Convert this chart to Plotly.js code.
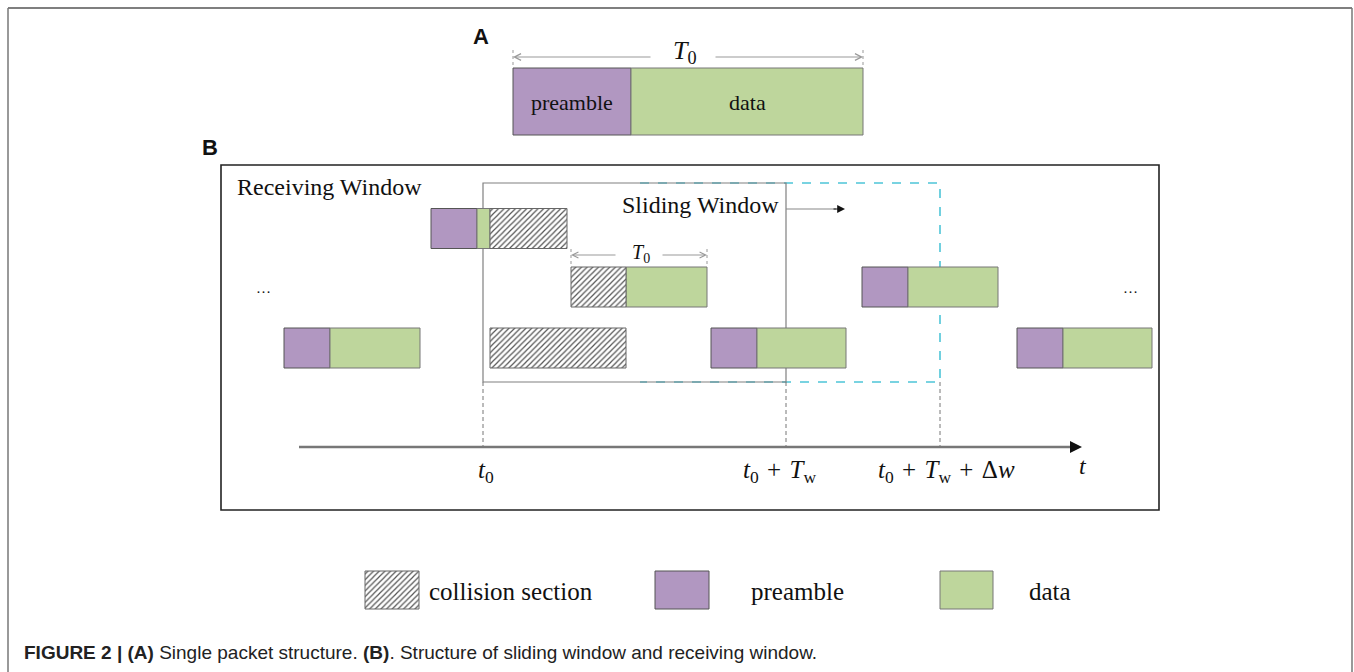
<!DOCTYPE html>
<html>
<head>
<meta charset="utf-8">
<script src="https://cdn.plot.ly/plotly-3.0.1.min.js"></script>
<style>html,body{margin:0;padding:0;background:#fff;}#plot{width:1354px;height:672px;}</style>
</head>
<body>
<div id="plot"></div>
<script>
// ---- diagram data (time positions along the horizontal axis, rows of packets) ----
const rowNames   = ['A', 'r1', 'r2', 'r3', 'legend'];
const rowCenter  = [101.5, 228.5, 287, 348, 590];
const rowHeight  = [67, 40, 40, 40, 38];

const preambleRow   = [0, 1, 2, 3, 3, 3, 4];
const preambleStart = [513, 431, 862, 284, 711, 1017, 655];
const preambleEnd   = [631, 477, 908, 330, 757, 1063, 709];

const dataRow   = [0, 1, 2, 2, 3, 3, 3, 4];
const dataStart = [631, 477, 626, 908, 330, 757, 1063, 940];
const dataEnd   = [863, 490, 707, 998, 420, 846, 1152, 993];

const collisionRow   = [1, 2, 3, 4];
const collisionStart = [490, 571, 490, 365];
const collisionEnd   = [567, 626, 626, 419];

const SP = '\u2004';
const timeMarks  = [483, 786, 940];
const timeLabels = ['<i>t</i><sub>0</sub>',
                    '<i>t</i><sub>0</sub>' + SP + '+' + SP + '<i>T</i><sub>w</sub>',
                    '<i>t</i><sub>0</sub>' + SP + '+' + SP + '<i>T</i><sub>w</sub>' + SP + '+' + SP + 'Δ<i>w</i>'];
const timeLabelX = [486, 779, 946];

const legendLabels = ['collision section', 'preamble', 'data'];

// ---- styles ----
const PURPLE = '#b197c1', GREEN = '#bed69c', EDGE = '#555555';
const SERIF = 'Liberation Serif, Times New Roman, serif';
const SANS = 'Liberation Sans, Arial, sans-serif';

function barTrace(rows, starts, ends, marker) {
  return {
    type: 'bar', orientation: 'h',
    y: rows.map(r => rowCenter[r]),
    width: rows.map(r => rowHeight[r]),
    base: starts,
    x: starts.map((s, i) => ends[i] - s),
    marker: marker,
    hoverinfo: 'skip', showlegend: false
  };
}

const traces = [
  barTrace(preambleRow, preambleStart, preambleEnd,
           {color: PURPLE, line: {color: EDGE, width: 1}}),
  barTrace(dataRow, dataStart, dataEnd,
           {color: GREEN, line: {color: '#777', width: 1}}),
  barTrace(collisionRow, collisionStart, collisionEnd,
           {color: 'white', line: {color: '#666', width: 1},
            pattern: {shape: '/', size: 4, solidity: 0.3, fgcolor: '#555', bgcolor: '#ffffff', fillmode: 'replace'}})
];

const AX_Y = 447, AX_X0 = 299, AX_X1 = 1076;
const shapes = [
  // outer figure frame
  {type: 'line', x0: 8, x1: 1352, y0: 8, y1: 8, line: {color: '#555', width: 1.5}},
  {type: 'line', x0: 8, x1: 8, y0: 8, y1: 672, line: {color: '#777', width: 1.5}},
  {type: 'line', x0: 1352, x1: 1352, y0: 8, y1: 672, line: {color: '#777', width: 1.5}},
  // receiving window
  {type: 'rect', x0: 221, x1: 1159, y0: 165, y1: 510, line: {color: '#222', width: 1.6}, layer: 'below'},
  // shifted window (dashed cyan, open on the left) and sliding window (solid)
  {type: 'path', path: 'M640,183 L940,183 L940,382 L640,382', line: {color: '#4ec5d8', width: 1.6, dash: 'dash'}, layer: 'below'},
  {type: 'rect', x0: 483, x1: 786, y0: 183, y1: 382, line: {color: '#808080', width: 1.2}, layer: 'below'},
  // sliding window direction arrow line
  {type: 'line', x0: 786, x1: 836, y0: 209, y1: 209, line: {color: '#888', width: 1.2}},
  // time axis
  {type: 'line', x0: AX_X0, x1: AX_X1, y0: AX_Y, y1: AX_Y, line: {color: '#777', width: 2.5}},
  // T0 span ticks (panel A)
  {type: 'line', x0: 513, x1: 513, y0: 50, y1: 68, line: {color: '#999', width: 1, dash: 'dot'}},
  {type: 'line', x0: 863, x1: 863, y0: 50, y1: 68, line: {color: '#999', width: 1, dash: 'dot'}},
  // T0 span ticks (row 2)
  {type: 'line', x0: 571, x1: 571, y0: 249, y1: 267, line: {color: '#999', width: 1, dash: 'dot'}},
  {type: 'line', x0: 707, x1: 707, y0: 249, y1: 267, line: {color: '#999', width: 1, dash: 'dot'}}
];
timeMarks.forEach(x => shapes.push({type: 'line', x0: x, x1: x, y0: 382, y1: AX_Y,
  line: {color: '#777', width: 1, dash: '4px,3px'}, layer: 'below'}));

function txt(x, y, text, size, opts) {
  return Object.assign({x: x, y: y, xref: 'x', yref: 'y', text: text, showarrow: false,
    font: {family: SERIF, size: size, color: '#111'}, xanchor: 'center', yanchor: 'middle'}, opts || {});
}
function arrow(xHead, xTail, y, head, color, width, size) {
  return {x: xHead, y: y, ax: xTail, ay: y, xref: 'x', yref: 'y', axref: 'x', ayref: 'y',
    text: '', showarrow: true, arrowhead: head, arrowcolor: color, arrowwidth: width, arrowsize: size, standoff: 0};
}

const annotations = [
  txt(481, 36, '<b>A</b>', 22, {font: {family: SANS, size: 22, color: '#111'}}),
  txt(210, 147, '<b>B</b>', 22, {font: {family: SANS, size: 22, color: '#111'}}),
  txt(685, 52, '<i>T</i><sub>0</sub>', 26),
  arrow(513, 652, 57, 5, '#999', 1, 1.3),
  arrow(863, 714, 57, 5, '#999', 1, 1.3),
  txt(572, 102, 'preamble', 22),
  txt(747, 102, 'data', 22),
  txt(235, 187, 'Receiving Window', 24, {xanchor: 'left'}),
  txt(781, 205, 'Sliding Window', 24, {xanchor: 'right'}),
  arrow(845, 832, 209, 2, '#111', 1.2, 1.3),
  txt(641, 253, '<i>T</i><sub>0</sub>', 20),
  arrow(571, 617, 255, 5, '#999', 1, 1.2),
  arrow(707, 661, 255, 5, '#999', 1, 1.2),
  txt(263, 288, '…', 15),
  txt(1130, 288, '…', 15),
  arrow(1082, 1070, AX_Y, 2, '#111', 2, 1.2),
  txt(1083, 466, '<i>t</i>', 24),
  txt(427, 591, legendLabels[0], 25, {xanchor: 'left'}),
  txt(797, 591, legendLabels[1], 25),
  txt(1050, 591, legendLabels[2], 25),
  txt(22, 652, '<b>FIGURE 2 | (A)</b> Single packet structure. <b>(B)</b>. Structure of sliding window and receiving window.', 19,
      {xanchor: 'left', font: {family: SANS, size: 19, color: '#222'}})
];
timeMarks.forEach((x, i) => annotations.push(txt(timeLabelX[i], 471, timeLabels[i], 25)));

const layout = {
  width: 1354, height: 672,
  margin: {l: 0, r: 0, t: 0, b: 0},
  paper_bgcolor: '#fff', plot_bgcolor: '#fff',
  barmode: 'overlay', showlegend: false,
  xaxis: {range: [0, 1354], visible: false, fixedrange: true},
  yaxis: {range: [672, 0], visible: false, fixedrange: true},
  shapes: shapes, annotations: annotations
};

Plotly.newPlot('plot', traces, layout, {staticPlot: true, displayModeBar: false});
</script>
</body>
</html>
